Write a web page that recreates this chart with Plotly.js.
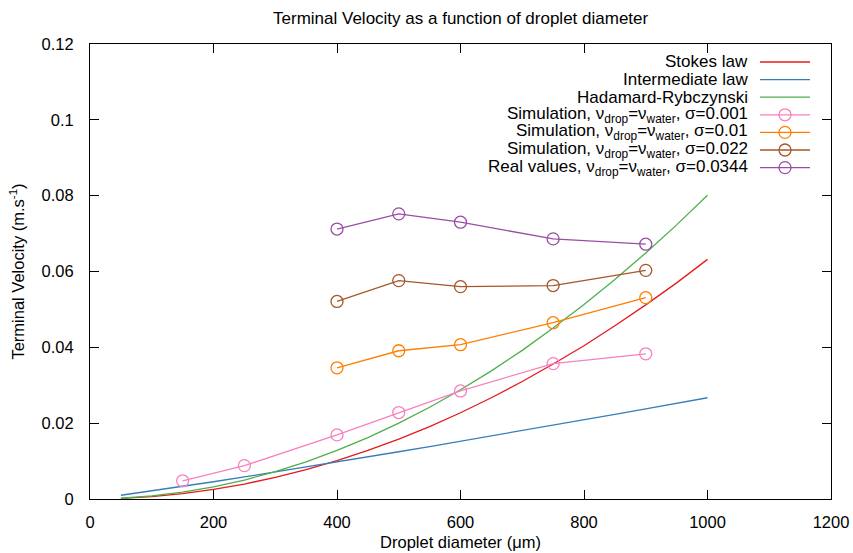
<!DOCTYPE html>
<html>
<head>
<meta charset="utf-8">
<script src="https://cdn.plot.ly/plotly-3.0.1.min.js"></script>
<style>html,body{margin:0;padding:0;background:#fff;}#chart{width:853px;height:553px;}</style>
</head>
<body>
<div id="chart"></div>
<script>
// Curve sample diameters (µm) and velocities (m/s)
const curveD = [50,100,150,200,250,300,350,400,450,500,550,600,650,700,750,800,850,900,950,1000];
const stokesV = [0.00016,0.00063,0.00142,0.00253,0.00395,0.00569,0.00774,0.01011,0.0128,0.0158,0.0191,0.02275,0.0267,0.0310,0.0356,0.0404,0.0457,0.0512,0.0570,0.0632];
const intermediateV = [0.00099,0.00212,0.00331,0.00455,0.00581,0.0071,0.00841,0.00975,0.0111,0.01246,0.01383,0.01522,0.01662,0.01804,0.01946,0.02089,0.02233,0.02378,0.02523,0.0267];
const hadamardV = [0.0002,0.0008,0.0018,0.0032,0.0050,0.0072,0.0098,0.0128,0.0162,0.0200,0.0242,0.0288,0.0338,0.0392,0.0451,0.0513,0.0579,0.0649,0.0723,0.0801];

// Simulation / measured points
const sim001D = [150,250,400,500,600,750,900];
const sim001V = [0.0048,0.0088,0.0169,0.0228,0.0285,0.0357,0.0383];
const simD = [400,500,600,750,900];
const sim01V = [0.0346,0.0391,0.0407,0.0465,0.0531];
const sim022V = [0.0521,0.0576,0.0560,0.0563,0.0603];
const realV = [0.0712,0.0752,0.0730,0.0686,0.0672];

const names = [
  "Stokes law",
  "Intermediate law",
  "Hadamard-Rybczynski",
  "Simulation, ν<sub>drop</sub>=ν<sub>water</sub>, σ=0.001",
  "Simulation, ν<sub>drop</sub>=ν<sub>water</sub>, σ=0.01",
  "Simulation, ν<sub>drop</sub>=ν<sub>water</sub>, σ=0.022",
  "Real values, ν<sub>drop</sub>=ν<sub>water</sub>, σ=0.0344"
];
const colors = ["#e41a1c","#377eb8","#4daf4a","#f781bf","#ff7f00","#a65628","#984ea3"];
const hasMarker = [false,false,false,true,true,true,true];

const xs = [curveD,curveD,curveD,sim001D,simD,simD,simD];
const ys = [stokesV,intermediateV,hadamardV,sim001V,sim01V,sim022V,realV];

const traces = names.map((n,i)=>({
  x: xs[i], y: ys[i], name: n, type: 'scatter',
  mode: hasMarker[i] ? 'lines+markers' : 'lines',
  line: {color: colors[i], width: 1.3},
  marker: {symbol: 'circle-open', size: 12, color: colors[i], line: {width: 1.3, color: colors[i]}},
  showlegend: false
}));

const fam = 'Liberation Sans, Arial, Helvetica, sans-serif';
const font = {family: fam, size: 16.5, color:'#000'};

// Gnuplot-style key: text right-aligned, sample to the right
const annotations = [];
const shapes = [];
const plotL = 90, plotR = 831, plotT = 44, plotB = 499;
const px2x = p => (p - plotL) / (plotR - plotL);
const py2y = p => (plotB - p) / (plotB - plotT);
names.forEach((n,i)=>{
  const rowY = py2y(62 + i*17.6);
  annotations.push({xref:'paper', yref:'paper', x: px2x(750), y: rowY, xanchor:'right', yanchor:'middle',
    text: n, showarrow:false, font:{family: fam, size:17, color:'#000'}});
  shapes.push({type:'line', xref:'paper', yref:'paper', x0: px2x(760), x1: px2x(810), y0: rowY, y1: rowY,
    line:{color: colors[i], width:1.3}});
  if (hasMarker[i]) {
    shapes.push({type:'circle', xref:'paper', yref:'paper', xsizemode:'pixel', ysizemode:'pixel',
      xanchor: px2x(785), yanchor: rowY, x0:-6, x1:6, y0:-6, y1:6,
      line:{color: colors[i], width:1.3}, fillcolor:'rgba(0,0,0,0)'});
  }
});

const layout = {
  width: 853, height: 553,
  margin: {l: 90, r: 22, t: 44, b: 54},
  paper_bgcolor: '#fff', plot_bgcolor: '#fff',
  font: font,
  title: {text: 'Terminal Velocity as a function of droplet diameter', x: 0.54, xanchor: 'center', y: 0.967, yanchor:'middle', font: {family: fam, size: 17, color:'#000'}},
  xaxis: {
    range: [0, 1200], dtick: 200, tick0: 0, showgrid: false, zeroline: false,
    showline: true, linecolor: '#000', linewidth: 1, mirror: 'ticks',
    ticks: 'inside', ticklen: 9, tickcolor: '#000', tickwidth: 1,
    tickfont: font, ticklabelstandoff: 8,
    title: {text: 'Droplet diameter (μm)', font: font, standoff: 6}
  },
  yaxis: {
    range: [0, 0.12], dtick: 0.02, tick0: 0, showgrid: false, zeroline: false,
    showline: true, linecolor: '#000', linewidth: 1, mirror: 'ticks',
    ticks: 'inside', ticklen: 9, tickcolor: '#000', tickwidth: 1,
    tickfont: font, tickformat: '~g', ticklabelstandoff: 12,
    title: {text: 'Terminal Velocity (m.s<sup>-1</sup>)', font: font, standoff: 12}
  },
  annotations: annotations,
  shapes: shapes,
  showlegend: false
};

Plotly.newPlot('chart', traces, layout, {displayModeBar: false, staticPlot: true});
</script>
</body>
</html>
